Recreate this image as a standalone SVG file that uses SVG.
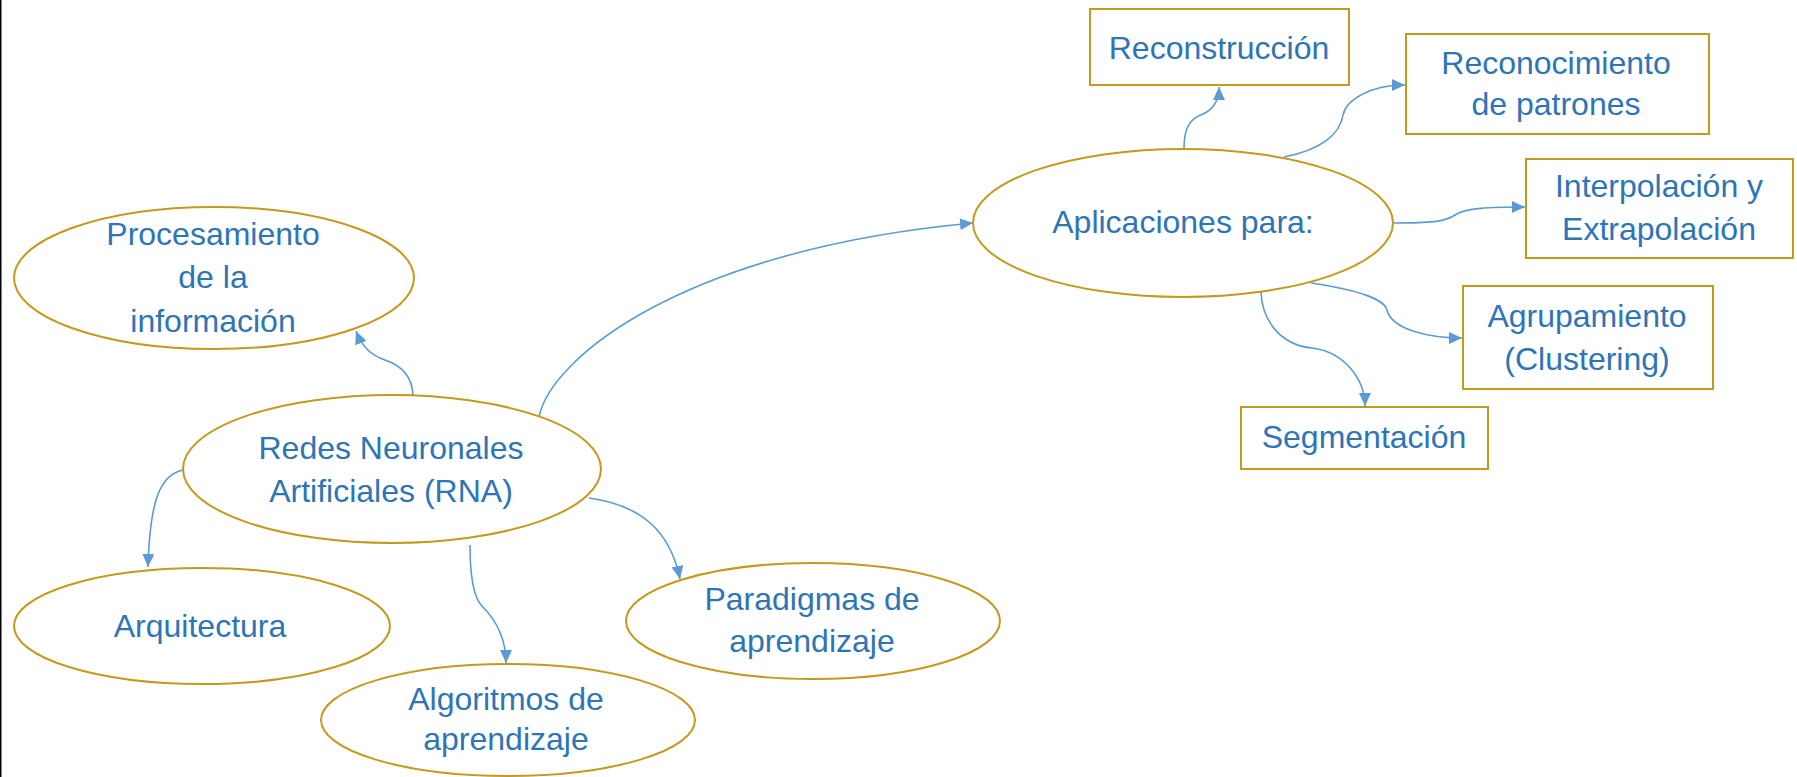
<svg xmlns="http://www.w3.org/2000/svg" width="1797" height="777" viewBox="0 0 1797 777">
<style>
.n{fill:#fff;stroke:#C49A1C;stroke-width:2}
.t{font-family:"Liberation Sans",Arial,sans-serif;font-size:32px;fill:#2E75B6;text-anchor:middle}
.c{fill:none;stroke:#5B9BD5;stroke-width:1.6}
</style>
<defs>
<marker id="ah" markerUnits="userSpaceOnUse" markerWidth="14" markerHeight="12" refX="13" refY="6" orient="auto">
<path d="M0,0 L13,6 L0,12 z" fill="#5B9BD5"/>
</marker>
</defs>
<rect x="0" y="0" width="1797" height="777" fill="#fff"/>
<rect x="0" y="0" width="1.5" height="777" fill="#000"/>
<g id="connectors">
<path class="c" marker-end="url(#ah)" d="M413,395 C412,375 400,365 385,360 C370,355 362,346 356,331"/>
<path class="c" marker-end="url(#ah)" d="M183,470 C160,475 150,500 148,567"/>
<path class="c" marker-end="url(#ah)" d="M470,545 C470,580 474,598 482,606 C498,622 506,640 506,663"/>
<path class="c" marker-end="url(#ah)" d="M589,498 C640,505 670,530 680,579"/>
<path class="c" marker-end="url(#ah)" d="M539,417 C550,360 680,250 973,223"/>
<path class="c" marker-end="url(#ah)" d="M1184,148 C1184,125 1192,118 1203,114 C1212,110 1219,102 1219,87"/>
<path class="c" marker-end="url(#ah)" d="M1284,157 C1320,150 1340,135 1343,115 C1346,100 1370,85 1405,85"/>
<path class="c" marker-end="url(#ah)" d="M1394,223 C1430,223 1445,222 1455,215 C1465,208 1490,207 1525,207"/>
<path class="c" marker-end="url(#ah)" d="M1311,283 C1360,290 1385,300 1387,310 C1392,330 1430,338 1462,338"/>
<path class="c" marker-end="url(#ah)" d="M1261,292 C1262,320 1280,345 1312,348 C1345,352 1365,380 1365,406"/>
</g>
<g id="procesamiento">
<ellipse class="n" cx="214" cy="278" rx="200" ry="71"/>
<text class="t" x="213" y="245">Procesamiento</text>
<text class="t" x="213" y="288">de la</text>
<text class="t" x="213" y="332">información</text>
</g>
<g id="rna">
<ellipse class="n" cx="392" cy="469" rx="209" ry="74"/>
<text class="t" x="391" y="459">Redes Neuronales</text>
<text class="t" x="391" y="502">Artificiales (RNA)</text>
</g>
<g id="arquitectura">
<ellipse class="n" cx="202" cy="626" rx="188" ry="58"/>
<text class="t" x="200" y="637">Arquitectura</text>
</g>
<g id="algoritmos">
<ellipse class="n" cx="508" cy="720" rx="187" ry="56"/>
<text class="t" x="506" y="710">Algoritmos de</text>
<text class="t" x="506" y="750">aprendizaje</text>
</g>
<g id="paradigmas">
<ellipse class="n" cx="813" cy="621" rx="187" ry="58"/>
<text class="t" x="812" y="610">Paradigmas de</text>
<text class="t" x="812" y="652">aprendizaje</text>
</g>
<g id="aplicaciones">
<ellipse class="n" cx="1183" cy="223" rx="210" ry="74"/>
<text class="t" x="1183" y="233">Aplicaciones para:</text>
</g>
<g id="reconstruccion">
<rect class="n" x="1090" y="9" width="259" height="76"/>
<text class="t" x="1219" y="59">Reconstrucción</text>
</g>
<g id="reconocimiento">
<rect class="n" x="1406" y="34" width="303" height="100"/>
<text class="t" x="1556" y="74">Reconocimiento</text>
<text class="t" x="1556" y="115">de patrones</text>
</g>
<g id="interpolacion">
<rect class="n" x="1526" y="159" width="267" height="99"/>
<text class="t" x="1659" y="197">Interpolación y</text>
<text class="t" x="1659" y="240">Extrapolación</text>
</g>
<g id="agrupamiento">
<rect class="n" x="1463" y="286" width="250" height="103"/>
<text class="t" x="1587" y="327">Agrupamiento</text>
<text class="t" x="1587" y="370">(Clustering)</text>
</g>
<g id="segmentacion">
<rect class="n" x="1241" y="407" width="247" height="62"/>
<text class="t" x="1364" y="448">Segmentación</text>
</g>
</svg>
